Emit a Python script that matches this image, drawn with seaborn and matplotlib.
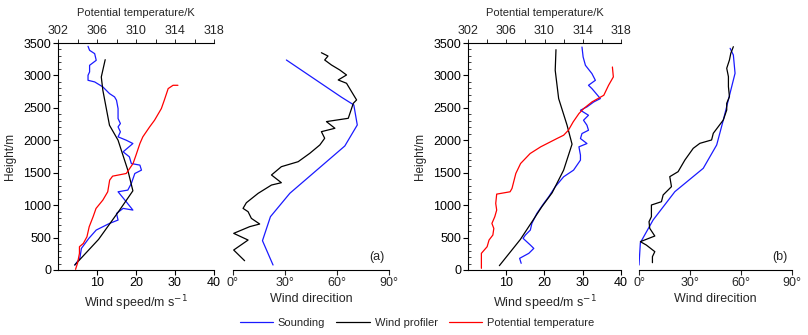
import numpy as np
import pandas as pd
import matplotlib
matplotlib.use("Agg")
import matplotlib.pyplot as plt
from matplotlib.ticker import MultipleLocator, FixedLocator
import seaborn as sns

sns.set_style("ticks")
plt.rcParams['font.family'] = ['Liberation Sans', 'DejaVu Sans']

# ---------------- Panel (a) ----------------
a_snd_speed = [4.3, 5.6, 6.0, 7.9, 9.8, 13.2, 15.4, 15.0, 16.7, 19.2, 17.5, 15.4, 17.9, 18.8, 19.7, 21.4, 21.0, 18.8,
               18.3, 16.7, 19.2, 17.5, 15.4, 16.0, 15.4, 16.0, 15.4, 15.4, 15.0, 14.5, 13.2, 11.5, 9.4, 7.7, 7.7,
               8.1, 8.1, 9.8, 9.4, 8.1, 7.7]
a_snd_speed_h = [77, 180, 333, 487, 616, 718, 770, 872, 950, 924, 1052, 1206, 1232, 1334, 1488, 1540, 1617, 1642,
                 1745, 1822, 1950, 2001, 2053, 2130, 2207, 2258, 2335, 2489, 2617, 2669, 2720, 2823, 2900, 2925, 3002,
                 3054, 3156, 3233, 3336, 3387, 3449]
a_prof_speed = [4.3, 10.4, 15.8, 19.2, 17.9, 15.4, 13.2, 11.5, 11.1, 12.1]
a_prof_speed_h = [77, 472, 924, 1221, 1540, 2001, 2232, 2771, 2976, 3243]
a_theta = [303.8, 304.0, 304.2, 304.2, 304.6, 304.97, 305.2, 305.6, 305.9, 306.6, 307.1, 307.3, 307.6, 309.0, 309.7,
           310.0, 310.4, 310.7, 311.4, 311.9, 312.6, 312.9, 313.3, 313.8, 314.3]
a_theta_h = [10, 103, 257, 359, 410, 513, 667, 821, 949, 1078, 1206, 1386, 1447, 1488, 1642, 1771, 1950, 2053, 2207,
             2309, 2489, 2617, 2797, 2848, 2848]
a_snd_dir = [23.1, 17.0, 21.6, 32.8, 64.5, 71.7, 69.7, 62.6, 30.8]
a_snd_dir_h = [77, 452, 822, 1183, 1912, 2236, 2545, 2664, 3238]
a_prof_dir = [6.7, 0.4, 8.7, 0.4, 9.6, 15.4, 10.6, 8.7, 5.8, 7.7, 14.5, 22.2, 27.9, 22.2, 27.9, 37.6, 44.3, 50.1,
              52.9, 51.0, 58.8, 53.9, 66.5, 69.4, 71.3, 68.4, 65.5, 60.7, 65.5, 61.6, 56.8, 52.9, 54.8, 51.0]
a_prof_dir_h = [143, 308, 462, 565, 668, 709, 796, 899, 950, 1037, 1182, 1310, 1346, 1465, 1593, 1670, 1799, 1928,
                2031, 2133, 2185, 2288, 2339, 2570, 2622, 2750, 2879, 2930, 3007, 3084, 3161, 3238, 3299, 3350]

# ---------------- Panel (b) ----------------
b_snd_speed = [13.9, 13.5, 15.9, 17.2, 16.3, 14.4, 15.0, 16.3, 16.7, 18.0, 19.8, 21.1, 22.8, 25.0, 27.6, 28.5, 29.4,
               29.4, 29.0, 31.1, 29.4, 29.8, 31.5, 31.1, 30.2, 31.5, 29.4, 31.1, 32.9, 34.6, 32.4, 31.5, 33.3, 32.4,
               30.7, 30.1, 29.8]
b_snd_speed_h = [103, 180, 257, 333, 385, 488, 539, 616, 718, 872, 1026, 1129, 1283, 1437, 1540, 1617, 1694, 1771,
                 1899, 1950, 2027, 2104, 2155, 2232, 2309, 2386, 2463, 2515, 2592, 2643, 2797, 2848, 2925, 3028,
                 3156, 3284, 3438]
b_prof_speed = [8.2, 13.7, 19.3, 22.0, 25.0, 27.2, 25.9, 23.7, 22.8, 23.0]
b_prof_speed_h = [67, 472, 975, 1191, 1540, 1940, 2232, 2643, 3079, 3397]
b_theta = [303.4, 303.4, 304.0, 304.2, 304.6, 304.7, 304.5, 304.8, 305.0, 304.9, 305.0, 306.4, 306.6, 307.0, 307.5,
           308.5, 309.6, 311.3, 312.0, 312.5, 313.0, 313.6, 314.1, 314.97, 316.2, 316.7, 317.2, 317.1]
b_theta_h = [26, 257, 359, 462, 539, 641, 718, 821, 924, 1026, 1170, 1206, 1257, 1488, 1642, 1796, 1899, 2027, 2078,
             2155, 2284, 2412, 2489, 2592, 2694, 2848, 2977, 3130]
b_snd_dir = [0.0, 0.8, 8.3, 21.1, 37.8, 45.7, 49.6, 56.5, 55.5, 53.6]
b_snd_dir_h = [77, 421, 771, 1208, 1568, 1928, 2313, 3033, 3315, 3418]
b_prof_dir = [7.9, 7.9, 9.3, 4.3, 0.8, 9.3, 6.3, 5.9, 7.3, 7.3, 13.2, 14.2, 19.1, 18.1, 23.0, 27.0, 31.9, 35.8, 42.7,
              43.7, 49.6, 51.6, 51.6, 53.2, 52.6, 52.6, 51.6, 53.2, 54.0, 55.5]
b_prof_dir_h = [113, 206, 283, 385, 437, 524, 643, 745, 822, 1002, 1053, 1157, 1285, 1439, 1516, 1696, 1876, 1953,
                2005, 2108, 2313, 2467, 2570, 2673, 2827, 2981, 3110, 3238, 3341, 3443]

speed_ticks = [10, 20, 30, 40]
theta_ticks = [302, 306, 310, 314, 318]
dir_ticks = [0, 30, 60, 90]
dir_labels = ["0°", "30°", "60°", "90°"]
panel_labels = ["(a)", "(b)"]

C_SND = "#1a1aff"
C_PROF = "#000000"
C_THETA = "#ff0000"
FS_TICK = 9
FS_LAB = 8.5
FS_TOP = 8
FS_LEG = 8
LW = 0.9

W, H = 808, 335
fig = plt.figure(figsize=(W / 100, H / 100), dpi=100)


def px_axes(l, r, t, b):
    return fig.add_axes([l / W, 1 - b / H, (r - l) / W, (b - t) / H])


def line(ax, x, y, color):
    sns.lineplot(x=x, y=y, ax=ax, sort=False, estimator=None, color=color, lw=LW, legend=False)


panels = [
    dict(snd=(a_snd_speed, a_snd_speed_h), prof=(a_prof_speed, a_prof_speed_h), th=(a_theta, a_theta_h),
         dsnd=(a_snd_dir, a_snd_dir_h), dprof=(a_prof_dir, a_prof_dir_h), pos=(58, 214, 233, 389)),
    dict(snd=(b_snd_speed, b_snd_speed_h), prof=(b_prof_speed, b_prof_speed_h), th=(b_theta, b_theta_h),
         dsnd=(b_snd_dir, b_snd_dir_h), dprof=(b_prof_dir, b_prof_dir_h), pos=(468, 621, 639, 792)),
]

for i, p in enumerate(panels):
    l1, r1, l2, r2 = p["pos"]
    ax = px_axes(l1, r1, 43, 270)
    ax.set_facecolor("none")
    line(ax, p["snd"][0], p["snd"][1], C_SND)
    line(ax, p["prof"][0], p["prof"][1], C_PROF)
    ax.set_xlim(0, 40)
    ax.set_ylim(0, 3500)
    ax.xaxis.set_major_locator(FixedLocator(speed_ticks))
    ax.yaxis.set_major_locator(MultipleLocator(500))
    ax.yaxis.set_minor_locator(MultipleLocator(100))
    ax.tick_params(axis="both", which="major", direction="out", length=3.5, width=0.8, labelsize=FS_TICK, pad=1.5,
                   colors="black")
    ax.tick_params(axis="y", which="minor", direction="in", length=2.5, width=0.6)
    ax.spines["right"].set_visible(False)
    ax.spines["top"].set_visible(False)
    for s in ["left", "bottom"]:
        ax.spines[s].set_linewidth(0.8)
        ax.spines[s].set_color("black")
    ax.set_xlabel("Wind speed/m s$^{-1}$", fontsize=FS_LAB + 0.5, labelpad=3)
    ax.set_ylabel("Height/m", fontsize=FS_LAB, labelpad=5)

    axt = ax.twiny()
    line(axt, p["th"][0], p["th"][1], C_THETA)
    axt.set_xlim(302, 318)
    axt.xaxis.set_major_locator(FixedLocator(theta_ticks))
    axt.xaxis.set_minor_locator(MultipleLocator(2))
    axt.tick_params(axis="x", which="both", direction="out", length=3, width=0.7, labelsize=FS_TICK, pad=1)
    for s in ["right", "bottom", "left"]:
        axt.spines[s].set_visible(False)
    axt.spines["top"].set_linewidth(0.8)
    axt.spines["top"].set_color("black")
    axt.set_xlabel("Potential temperature/K", fontsize=FS_TOP, labelpad=7)
    axt.set_ylabel("")

    axd = px_axes(l2, r2, 43, 270)
    axd.set_facecolor("none")
    line(axd, p["dsnd"][0], p["dsnd"][1], C_SND)
    line(axd, p["dprof"][0], p["dprof"][1], C_PROF)
    axd.set_xlim(0, 90)
    axd.set_ylim(0, 3500)
    axd.set_xticks(dir_ticks)
    axd.set_xticklabels(dir_labels)
    axd.set_yticks([])
    axd.set_ylabel("")
    for s in ["right", "top", "left"]:
        axd.spines[s].set_visible(False)
    axd.spines["bottom"].set_linewidth(0.8)
    axd.spines["bottom"].set_color("black")
    axd.tick_params(axis="x", direction="out", length=3.5, width=0.8, labelsize=FS_TICK, pad=1.5)
    axd.set_xlabel("Wind direcition", fontsize=FS_LAB + 0.5, labelpad=3)
    axd.text(0.97, 0.03, panel_labels[i], transform=axd.transAxes, ha="right", va="bottom", fontsize=FS_TICK)

handles = [plt.Line2D([], [], color=C_SND, lw=LW), plt.Line2D([], [], color=C_PROF, lw=LW),
           plt.Line2D([], [], color=C_THETA, lw=LW)]
fig.legend(handles, ["Sounding", "Wind profiler", "Potential temperature"], loc="center",
           bbox_to_anchor=(417 / W, 1 - 323 / H), ncol=3, frameon=False, fontsize=FS_LEG,
           handlelength=3.0, handletextpad=0.45, columnspacing=1.0)

fig.savefig("out.png", dpi=100)
